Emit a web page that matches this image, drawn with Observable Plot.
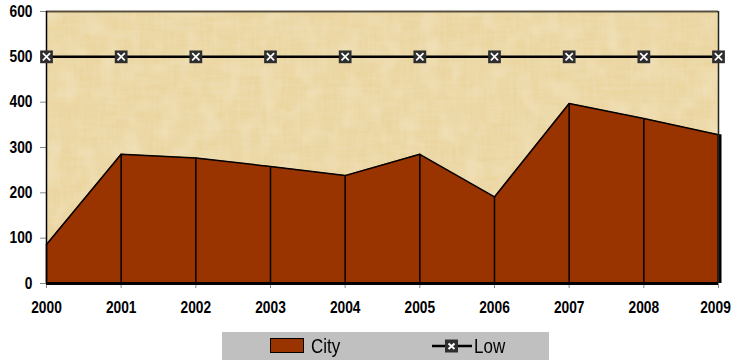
<!DOCTYPE html>
<html>
<head>
<meta charset="utf-8">
<script src="https://cdn.jsdelivr.net/npm/d3@7"></script>
<script src="https://cdn.jsdelivr.net/npm/@observablehq/plot@0.6"></script>
<style>
  html, body { margin: 0; padding: 0; background: #ffffff; }
  #chart { position: relative; width: 732px; height: 360px; font-family: "Liberation Sans", Arial, sans-serif; }
  .legend { position: absolute; left: 222px; top: 332px; width: 327px; height: 28px; background: #c0c0c0; font-size: 20px; color: #000; }
  .legend .sw { position: absolute; left: 48px; top: 6px; width: 34px; height: 15px; background: #993300; border: 1px solid #000; box-sizing: border-box; }
  .legend .t1 { position: absolute; left: 89px; top: 3px; transform: scaleX(0.85); transform-origin: left; }
  .legend .t2 { position: absolute; left: 252px; top: 3px; transform: scaleX(0.85); transform-origin: left; }
  .legend svg { position: absolute; left: 210px; top: 5px; }
</style>
</head>
<body>
<div id="chart"></div>
<script>
const years = [2000, 2001, 2002, 2003, 2004, 2005, 2006, 2007, 2008, 2009];
const city  = [86, 285, 277, 258, 238, 285, 191, 397, 364, 328];
const low   = [500, 500, 500, 500, 500, 500, 500, 500, 500, 500];
const yTicks = [0, 100, 200, 300, 400, 500, 600];

const cityData = years.map((y, i) => ({year: y, value: city[i]}));
const lowData = years.map((y, i) => ({year: y, value: low[i]}));
const fmt = d3.format("d");

const plot = Plot.plot({
  width: 732,
  height: 330,
  marginLeft: 46,
  marginRight: 14,
  marginTop: 11,
  marginBottom: 47,
  style: {fontFamily: "'Liberation Sans', Arial, sans-serif", fontSize: "16px", fontWeight: "bold", color: "#000", background: "transparent"},
  x: {domain: [2000, 2009], label: null},
  y: {domain: [0, 600], label: null},
  marks: [
    Plot.frame({fill: "#ebd59f", stroke: null}),
    Plot.frame({fill: "#ffffff", stroke: null, className: "paper"}),
    Plot.areaY(cityData, {x: "year", y: "value", fill: "#993300"}),
    Plot.ruleX(cityData, {x: "year", y1: 0, y2: "value", stroke: "#000", strokeWidth: 1.5}),
    Plot.ruleX([2009], {y1: 0, y2: city[city.length - 1], stroke: "#000", strokeWidth: 4, dx: 1}),
    Plot.line(cityData, {x: "year", y: "value", stroke: "#000", strokeWidth: 1.5}),
    Plot.ruleY([600], {stroke: "#5a5040", strokeWidth: 2}),
    Plot.ruleX([2009], {stroke: "#222", strokeWidth: 1.5}),
    Plot.axisX({ticks: years, tickFormat: () => "", tickSize: 5, stroke: "#888"}),
    Plot.axisX({ticks: years.slice(0, -1), tickFormat: fmt, tickSize: 0, tickPadding: 18, fontWeight: "bold", className: "xlab"}),
    Plot.axisX({ticks: years.slice(-1), tickFormat: fmt, tickSize: 0, tickPadding: 18, fontWeight: "bold", dx: -3, className: "xlab"}),
    Plot.axisY({ticks: yTicks, tickSize: 6, tickPadding: 8, stroke: "#888", fontWeight: "bold", className: "ylab"}),
    Plot.ruleX([2000], {stroke: "#000", strokeWidth: 1.5}),
    Plot.ruleY([0], {stroke: "#000", strokeWidth: 3}),
    Plot.line(lowData, {x: "year", y: "value", stroke: "#000", strokeWidth: 2.5}),
    Plot.dot(lowData, {x: "year", y: "value", symbol: "square", r: 7.2, fill: "#2e2e2e", stroke: "none"}),
    Plot.dot(lowData, {x: "year", y: "value", symbol: "times", r: 3.4, stroke: "#ffffff", strokeWidth: 1.7})
  ]
});

// condense the tick labels (Arial Narrow look)
const svg = d3.select(plot);
svg.selectAll("text").each(function() {
  const t = d3.select(this);
  if (this.closest("[aria-label*='tick label']") || this.closest(".xlab") || this.closest(".ylab")) {
    const tr = t.attr("transform") || "";
    t.attr("transform", tr + " scale(0.86,1)");
  }
});

// paper texture for the plot background
const defs = svg.insert("defs", ":first-child");
const f = defs.append("filter").attr("id", "paperTex").attr("x", 0).attr("y", 0).attr("width", 1).attr("height", 1);
f.append("feTurbulence").attr("type", "fractalNoise").attr("baseFrequency", "0.03 0.3").attr("numOctaves", 2).attr("seed", 4).attr("result", "n1");
f.append("feColorMatrix").attr("in", "n1").attr("type", "matrix")
  .attr("values", "0 0 0 0 0.85  0 0 0 0 0.75  0 0 0 0 0.50  0.8 0 0 0 -0.3").attr("result", "c1");
f.append("feTurbulence").attr("type", "fractalNoise").attr("baseFrequency", "0.3 0.03").attr("numOctaves", 2).attr("seed", 9).attr("result", "n2");
f.append("feColorMatrix").attr("in", "n2").attr("type", "matrix")
  .attr("values", "0 0 0 0 0.85  0 0 0 0 0.75  0 0 0 0 0.50  0.8 0 0 0 -0.3").attr("result", "c2");
f.append("feTurbulence").attr("type", "fractalNoise").attr("baseFrequency", "0.05 0.05").attr("numOctaves", 2).attr("seed", 17).attr("result", "n3");
f.append("feColorMatrix").attr("in", "n3").attr("type", "matrix")
  .attr("values", "0 0 0 0 0.96  0 0 0 0 0.89  0 0 0 0 0.73  0.8 0 0 0 -0.35").attr("result", "c3");
const m = f.append("feMerge");
m.append("feMergeNode").attr("in", "c3");
m.append("feMergeNode").attr("in", "c1");
m.append("feMergeNode").attr("in", "c2");
svg.selectAll("g[aria-label='frame']").filter(function(){ return this.classList.contains("paper"); }).selectAll("rect").attr("filter", "url(#paperTex)");
svg.selectAll("rect.paper").attr("filter", "url(#paperTex)");

const chart = document.getElementById("chart");
chart.appendChild(plot);

const legend = document.createElement("div");
legend.className = "legend";
legend.innerHTML = `<div class="sw"></div><span class="t1">City</span>
<svg width="40" height="18"><line x1="0" y1="9" x2="40" y2="9" stroke="#000" stroke-width="2.5"/>
<rect x="13" y="2.5" width="13" height="13" fill="#2e2e2e"/>
<path d="M16.5,6.5 L22.5,12 M22.5,6.5 L16.5,12" stroke="#fff" stroke-width="2"/></svg>
<span class="t2">Low</span>`;
chart.appendChild(legend);
</script>
</body>
</html>
